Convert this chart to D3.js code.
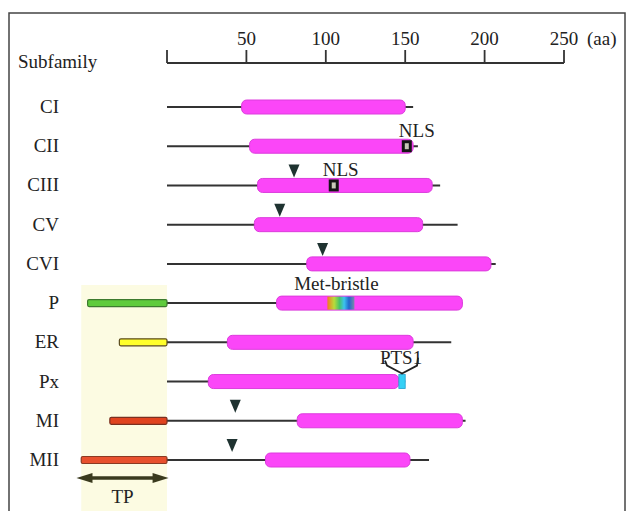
<!DOCTYPE html>
<html>
<meta charset="utf-8">
<head>
  <script src="https://d3js.org/d3.v7.min.js"></script>
  <style>
    body { margin: 0; background: #fff; }
    svg { display: block; }
  </style>
</head>
<body>
<div id="chart"></div>
<script>
  // subfamilies, top to bottom
  var rows = ["CI", "CII", "CIII", "CV", "CVI", "P", "ER", "Px", "MI", "MII"];

  // protein extent (aa), mature part starts at 0
  var lineEnd = [155, 158, 172, 183, 207, 186, 179, 150, 188, 165];

  // pink domain (aa)
  var domStart = [47, 52, 57, 55, 88, 69, 38, 26, 82, 62];
  var domEnd = [150, 155, 167, 161, 204, 186, 155, 146, 186, 153];

  // transit peptide start (negative aa), null = none
  var tpStart = [null, null, null, null, null, -50, -30, null, -36, -54];
  var tpColor = [null, null, null, null, null, "#5fcb3c", "#ffff2a", null, "#e0431f", "#e8502d"];
  var tpEdge = [null, null, null, null, null, "#3d7a2e", "#5a4a1e", null, "#7a3020", "#8a3a22"];

  // triangle markers (aa)
  var markers = [null, null, 80, 71, 98, null, null, null, 43, 41];

  // NLS boxes
  var nlsRows = ["CII", "CIII"];
  var nlsPos = [151, 105];

  var metRow = "P", metStart = 101, metEnd = 118;
  var ptsRow = "Px", ptsStart = 146, ptsEnd = 150;

  var ticks = [0, 50, 100, 150, 200, 250];

  var FONT = "'Liberation Serif', 'Times New Roman', 'DejaVu Serif', serif";
  var W = 627, H = 511;
  var svg = d3.select("#chart").append("svg")
    .attr("width", W)
    .attr("height", H)
    .style("font-family", FONT);

  var x = d3.scaleLinear().domain([0, 250]).range([167, 564]);
  var y = d3.scalePoint().domain(rows).range([107, 460]);

  function label(sel) {
    return sel.style("font-family", FONT).style("font-size", "19px").style("fill", "#222");
  }

  // met-bristle gradient
  var grad = svg.append("defs").append("linearGradient")
    .attr("id", "met")
    .attr("x1", "0%").attr("x2", "100%");
  [["0%", "#f07a22"], ["25%", "#b8dc3a"], ["45%", "#45c46a"], ["62%", "#3cc4ef"],
   ["80%", "#2266cc"], ["100%", "#7a8aa8"]].forEach(function (s) {
    grad.append("stop").attr("offset", s[0]).attr("stop-color", s[1]);
  });

  // shaded TP area
  svg.append("rect")
    .attr("x", x(-54))
    .attr("y", 285)
    .attr("width", x(0) - x(-54))
    .attr("height", H - 285)
    .style("fill", "#fcfbe2");

  // frame
  svg.append("rect")
    .attr("x", 9).attr("y", 13)
    .attr("width", 616).attr("height", 510)
    .style("fill", "none")
    .style("stroke", "#444")
    .style("stroke-width", 1.5);

  // axis
  var axis = svg.append("g").attr("transform", "translate(0,63)");
  axis.append("line")
    .attr("x1", x(0)).attr("x2", x(250))
    .style("stroke", "#333").style("stroke-width", 1.8);
  axis.selectAll(".tk").data(ticks).enter().append("line")
    .attr("x1", d => x(d)).attr("x2", d => x(d))
    .attr("y1", 0).attr("y2", -13)
    .style("stroke", "#333").style("stroke-width", 1.8);
  axis.selectAll(".tl").data(ticks.filter(d => d > 0)).enter().append("text")
    .attr("x", d => x(d)).attr("y", -18)
    .style("text-anchor", "middle")
    .call(label)
    .text(d => d);
  axis.append("text")
    .attr("x", 587).attr("y", -18)
    .call(label)
    .text("(aa)");

  svg.append("text")
    .attr("x", 18).attr("y", 68)
    .call(label)
    .text("Subfamily");

  var g = svg.append("g").selectAll("g").data(rows).enter().append("g")
    .attr("transform", d => "translate(0," + y(d) + ")");

  g.append("text")
    .attr("x", 59).attr("y", 6)
    .style("text-anchor", "end")
    .call(label)
    .text(d => d);

  // backbone line
  g.append("line")
    .attr("x1", x(0))
    .attr("x2", (d, i) => x(lineEnd[i]))
    .style("stroke", "#333").style("stroke-width", 2);

  // transit peptides
  g.filter((d, i) => tpStart[i] !== null).append("rect")
    .attr("x", d => x(tpStart[rows.indexOf(d)]))
    .attr("y", -3.5)
    .attr("width", d => x(0) - x(tpStart[rows.indexOf(d)]))
    .attr("height", 7)
    .attr("rx", 1.5)
    .style("fill", d => tpColor[rows.indexOf(d)])
    .style("stroke", d => tpEdge[rows.indexOf(d)])
    .style("stroke-width", 1.2);

  // domains
  g.append("rect")
    .attr("x", (d, i) => x(domStart[i]))
    .attr("y", -7)
    .attr("width", (d, i) => x(domEnd[i]) - x(domStart[i]))
    .attr("height", 14)
    .attr("rx", 5)
    .style("fill", "#fb46f8")
    .style("stroke", "#dc3cdc")
    .style("stroke-width", 1);

  // triangles
  g.filter((d, i) => markers[i] !== null).append("path")
    .attr("d", d => {
      var cx = x(markers[rows.indexOf(d)]);
      return "M" + (cx - 5.5) + ",-21L" + (cx + 5.5) + ",-21L" + cx + ",-8Z";
    })
    .style("fill", "#1f3331");

  // NLS
  var nls = svg.append("g").selectAll("g").data(nlsRows).enter().append("g")
    .attr("transform", (d, i) => "translate(" + x(nlsPos[i]) + "," + y(d) + ")");
  nls.append("rect")
    .attr("x", -5).attr("y", -6).attr("width", 10).attr("height", 12)
    .style("fill", "#151515");
  nls.append("rect")
    .attr("x", -2).attr("y", -3).attr("width", 4).attr("height", 6)
    .style("fill", "#c8c8b8");
  nls.append("text")
    .attr("x", (d, i) => i === 0 ? 10 : 7)
    .attr("y", -9)
    .style("text-anchor", "middle")
    .call(label)
    .text("NLS");

  // met-bristle
  svg.append("rect")
    .attr("x", x(metStart)).attr("y", y(metRow) - 6.5)
    .attr("width", x(metEnd) - x(metStart)).attr("height", 13)
    .style("fill", "url(#met)");
  svg.append("text")
    .attr("x", x(metStart) + 9).attr("y", y(metRow) - 13)
    .style("text-anchor", "middle")
    .call(label)
    .text("Met-bristle");

  // PTS1
  svg.append("rect")
    .attr("x", x(ptsStart)).attr("y", y(ptsRow) - 7)
    .attr("width", x(ptsEnd) - x(ptsStart)).attr("height", 14)
    .style("fill", "#35d0f5")
    .style("stroke", "#20a0d0")
    .style("stroke-width", 0.8);
  var pc = (x(ptsStart) + x(ptsEnd)) / 2, py = y(ptsRow);
  svg.append("path")
    .attr("d", "M" + (pc - 17) + "," + (py - 21) + "L" + (pc - 15) + "," + (py - 16) +
      "L" + pc + "," + (py - 8) + "L" + (pc + 15) + "," + (py - 16) + "L" + (pc + 16) + "," + (py - 24))
    .style("fill", "none")
    .style("stroke", "#222")
    .style("stroke-width", 1.8);
  svg.append("text")
    .attr("x", pc - 1).attr("y", py - 18)
    .style("text-anchor", "middle")
    .call(label)
    .text("PTS1");

  // TP arrow
  var ay = 478, ax1 = x(-57), ax2 = x(1);
  svg.append("line")
    .attr("x1", ax1 + 10).attr("x2", ax2 - 10)
    .attr("y1", ay).attr("y2", ay)
    .style("stroke", "#3a3a1e").style("stroke-width", 3.5);
  svg.append("path")
    .attr("d", "M" + ax1 + "," + ay + "L" + (ax1 + 16) + "," + (ay - 5) + "L" + (ax1 + 16) + "," + (ay + 5) + "Z" +
      "M" + ax2 + "," + ay + "L" + (ax2 - 16) + "," + (ay - 5) + "L" + (ax2 - 16) + "," + (ay + 5) + "Z")
    .style("fill", "#3a3a1e");
  svg.append("text")
    .attr("x", (ax1 + ax2) / 2).attr("y", 503)
    .style("text-anchor", "middle")
    .call(label)
    .text("TP");
</script>
</body>
</html>
